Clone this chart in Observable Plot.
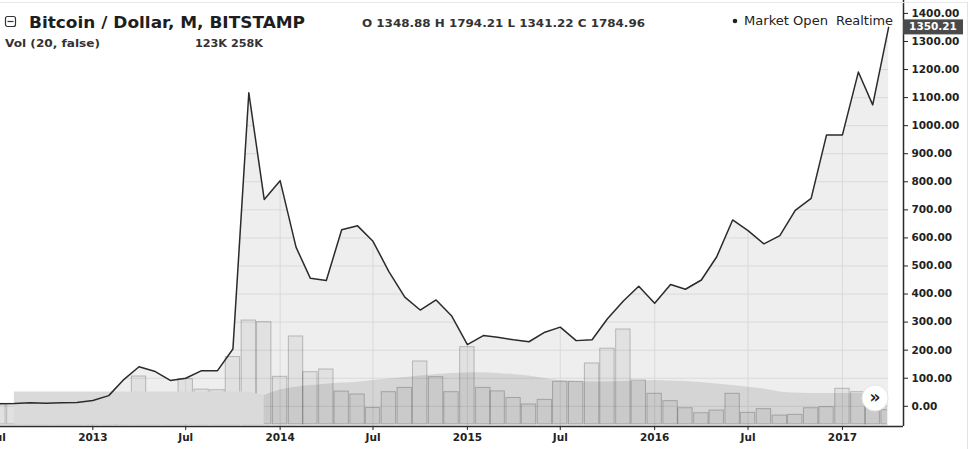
<!DOCTYPE html>
<html>
<head>
<meta charset="utf-8">
<script src="https://cdn.jsdelivr.net/npm/d3@7"></script>
<script src="https://cdn.jsdelivr.net/npm/@observablehq/plot@0.6"></script>
<style>
  body { margin: 0; background: #fff; }
  #chart { position: relative; width: 975px; height: 449px; overflow: hidden; font-family: "DejaVu Sans", sans-serif; background: #fff; }
  #chart svg { position: absolute; left: 0; top: 0; }
  #volclip { position: absolute; left: 0; top: 0; width: 887px; height: 449px; overflow: hidden; }
</style>
</head>
<body>
<div id="chart"><div id="volclip"></div></div>
<script>
// ---- data ----
const months = [
  "2012-07","2012-08","2012-09","2012-10","2012-11","2012-12",
  "2013-01","2013-02","2013-03","2013-04","2013-05","2013-06","2013-07","2013-08","2013-09","2013-10","2013-11","2013-12",
  "2014-01","2014-02","2014-03","2014-04","2014-05","2014-06","2014-07","2014-08","2014-09","2014-10","2014-11","2014-12",
  "2015-01","2015-02","2015-03","2015-04","2015-05","2015-06","2015-07","2015-08","2015-09","2015-10","2015-11","2015-12",
  "2016-01","2016-02","2016-03","2016-04","2016-05","2016-06","2016-07","2016-08","2016-09","2016-10","2016-11","2016-12",
  "2017-01","2017-02","2017-03","2017-04"
];
const price = [
  9.3, 10.2, 12.4, 11.2, 12.6, 13.5,
  20.4, 38, 93, 141, 125, 92, 100, 127, 127, 204, 1117, 737,
  804, 567, 456, 448, 629, 643, 588, 480, 389, 343, 379, 323,
  220, 252, 246, 237, 230, 264, 282, 234, 237, 312, 375, 428,
  367, 434, 417, 450, 533, 664, 626, 579, 608, 698, 741, 967,
  967, 1191, 1074, 1350.21
];
// monthly volume, thousands
const volume = [
  178, 178, 70, 60, 60, 60,
  70, 80, 150, 413, 200, 150, 390, 300, 295, 580, 894, 880,
  410, 757, 450, 473, 283, 258, 142, 278, 315, 542, 407, 278,
  665, 315, 285, 228, 172, 212, 367, 367, 525, 652, 817, 378,
  264, 201, 140, 97, 120, 264, 100, 132, 77, 83, 140, 149,
  307, 278, 163, 123
];
// volume moving average (20), thousands
const volumeMA = [
  null, 280, 280, 280, 280, 280,
  280, 280, 280, 280, 280, 280, 280, 280, 280, 280, 280, 250,
  297, 321, 335, 347, 357, 364, 378, 391, 404, 417, 430, 439,
  443, 445, 439, 430, 417, 396, 378, 370, 366, 366, 370, 374,
  378, 374, 370, 361, 348, 335, 321, 305, 280, 271, 267, 267,
  267, 267, 264, 258
];
const maSplit = "2013-12";
const yTicks = [0, 100, 200, 300, 400, 500, 600, 700, 800, 900, 1000, 1100, 1200, 1300, 1400];
const xTicks = ["2012-07-01","2013-01-01","2013-07-01","2014-01-01","2014-07-01","2015-01-01","2015-07-01","2016-01-01","2016-07-01","2017-01-01"];
const lastPrice = 1350.21;
const titleText = "Bitcoin / Dollar, M, BITSTAMP";
const ohlcText = "O 1348.88 H 1794.21 L 1341.22 C 1784.96";
const volLabel = "Vol (20, false)";
const volValues = "123K 258K";
const statusText = "Market Open";
const realtimeText = "Realtime";

// ---- build table ----
const data = months.map((m, i) => ({
  date: new Date(m + "-01"),
  key: m,
  price: price[i],
  volume: volume[i],
  ma: volumeMA[i]
}));
const tickDates = xTicks.map(d => new Date(d));
const maEarly = data.filter(d => d.ma != null && d.key <= maSplit);
const maLate = data.filter(d => d.ma != null && d.key >= maSplit);

const W = 975, H = 449;
const xDomain = [new Date("2012-07-05"), new Date("2017-04-30")];
const yDomain = [-72, 1446];
const base = {
  width: W, height: H,
  marginLeft: 0, marginRight: 72, marginTop: 0, marginBottom: 23,
  style: { background: "transparent", maxWidth: "none", overflow: "visible", fontFamily: "DejaVu Sans, sans-serif" }
};
const chart = document.getElementById("chart");
const volclip = document.getElementById("volclip");

// Layer A: price area + grid, masked above the line
const plotA = Plot.plot({
  ...base,
  style: { ...base.style, overflow: "hidden" },
  x: { type: "utc", domain: xDomain, axis: null },
  y: { domain: yDomain, axis: null },
  marks: [
    Plot.areaY(data, { x: "date", y1: yDomain[0], y2: "price", fill: "#eeeeee" }),
    Plot.ruleY(yTicks, { x1: data[0].date, x2: data[data.length - 1].date, stroke: "#dadada" }),
    Plot.ruleX(tickDates, { stroke: "#dadada" }),
    Plot.areaY(data, { x: "date", y1: "price", y2: yDomain[1], fill: "white" })
  ]
});
chart.insertBefore(plotA, volclip);

// Layer B: volume pane
const plotB = Plot.plot({
  ...base,
  x: { type: "utc", domain: xDomain, axis: null },
  y: { domain: [0, 1000], range: [424, 307.7], axis: null },
  marks: [
    Plot.rectY(data, {
      x1: d => d3.utcDay.offset(d.date, -15),
      x2: d => d3.utcDay.offset(d.date, 15),
      y: "volume",
      insetLeft: 0.5, insetRight: 0.5,
      fill: "black", fillOpacity: 0.05,
      stroke: "black", strokeOpacity: 0.22, strokeWidth: 1
    }),
    Plot.areaY(maEarly, { x: "date", y: "ma", fill: "#dadada" }),
    Plot.areaY(maLate, { x: "date", y: "ma", fill: "black", fillOpacity: 0.1, curve: "monotone-x" })
  ]
});
volclip.appendChild(plotB);

// Layer C: line and axes
const fmt = d3.format(".2f");
const plotC = Plot.plot({
  ...base,
  x: { type: "utc", domain: xDomain, label: null },
  y: { domain: yDomain, label: null },
  marks: [
    Plot.lineY(data, { x: "date", y: "price", stroke: "#2b2b2b", strokeWidth: 1.5 }),
    Plot.ruleX([xDomain[1]], { stroke: "#2b2b2b", strokeWidth: 1.5 }),
    Plot.ruleY([yDomain[0]], { stroke: "#2b2b2b", strokeWidth: 1.5 }),
    Plot.axisY(yTicks, {
      anchor: "right", label: null, tickSize: 4, tickPadding: 4, tickFormat: fmt,
      fontSize: 10.5, fontWeight: "bold", color: "#222"
    }),
    Plot.axisX(tickDates, {
      anchor: "bottom", label: null, tickSize: 4, tickPadding: 3,
      tickFormat: d => d.getUTCMonth() === 0 ? String(d.getUTCFullYear()) : "Jul",
      fontSize: 10.5, fontWeight: "bold", color: "#222"
    })
  ]
});
chart.appendChild(plotC);

// Overlay: header texts, price label, scroll button
const yS = plotC.scale("y");
const xS = plotC.scale("x");
const axisX = xS.apply(xDomain[1]);
const priceY = yS.apply(lastPrice);
const ov = d3.create("svg").attr("width", W).attr("height", H)
  .style("position", "absolute").style("left", 0).style("top", 0)
  .style("font-family", "DejaVu Sans, sans-serif");

// faint outer frame
ov.append("line").attr("x1", 0).attr("x2", 967).attr("y1", 2.5).attr("y2", 2.5).attr("stroke", "#e8e8e8");
ov.append("line").attr("x1", 967.5).attr("x2", 967.5).attr("y1", 2).attr("y2", 449).attr("stroke", "#e4e4e4");

// header icon
ov.append("rect").attr("x", 5.5).attr("y", 16.5).attr("width", 10).attr("height", 10).attr("rx", 2)
  .attr("fill", "none").attr("stroke", "#333").attr("stroke-width", 1.2);
ov.append("line").attr("x1", 7.5).attr("x2", 13.5).attr("y1", 21.5).attr("y2", 21.5).attr("stroke", "#333").attr("stroke-width", 1.2);

function txt(s, x, y, opts) {
  const t = ov.append("text").attr("x", x).attr("y", y).text(s)
    .attr("fill", opts.fill || "#222")
    .attr("font-size", opts.size)
    .attr("font-weight", opts.weight || "normal");
  if (opts.len) t.attr("textLength", opts.len).attr("lengthAdjust", "spacingAndGlyphs");
  if (opts.anchor) t.attr("text-anchor", opts.anchor);
  if (opts.baseline) t.attr("dominant-baseline", opts.baseline);
  return t;
}
txt(titleText, 29, 27.5, { size: 16, weight: "bold", len: 276, fill: "#1e1e1e" });
txt(ohlcText, 362, 26.5, { size: 11, weight: "bold", len: 283, fill: "#333" });
txt(volLabel, 5, 47, { size: 11, weight: "bold", len: 95, fill: "#333" });
txt(volValues, 195, 47, { size: 11, weight: "bold", len: 68, fill: "#333" });
ov.append("circle").attr("cx", 735).attr("cy", 21).attr("r", 2.3).attr("fill", "#222");
txt(statusText, 744, 25, { size: 12, len: 84, fill: "#222" });
txt(realtimeText, 836, 25, { size: 12, len: 57, fill: "#222" });

// last price label on the axis
ov.append("rect").attr("x", axisX).attr("y", priceY - 7.5).attr("width", 60).attr("height", 15).attr("fill", "#4a4a4a");
txt(fmt(lastPrice), axisX + 30, priceY + 0.5, { size: 10.5, weight: "bold", fill: "#fff", anchor: "middle", baseline: "middle" });

// scroll-to-latest button
ov.append("circle").attr("cx", 875).attr("cy", 398).attr("r", 13).attr("fill", "#fff").attr("stroke", "#e6e6e6");
txt("\u00bb", 875, 398, { size: 17, weight: "bold", fill: "#222", anchor: "middle", baseline: "middle" });

chart.appendChild(ov.node());
</script>
</body>
</html>
